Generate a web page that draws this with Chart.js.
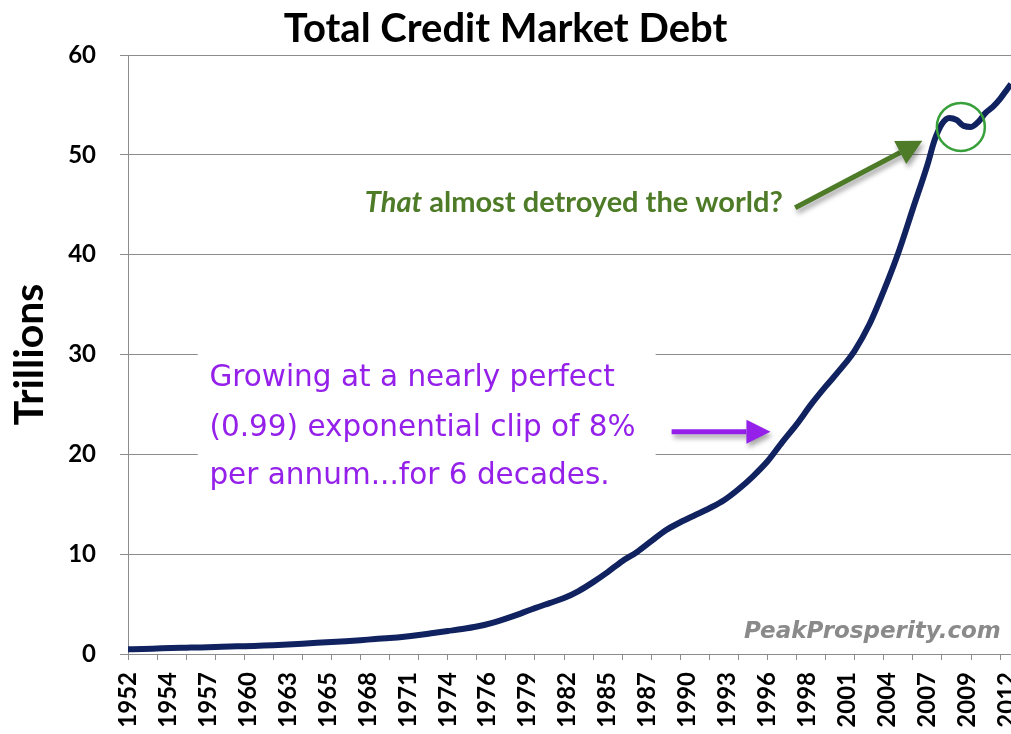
<!DOCTYPE html>
<html>
<head>
<meta charset="utf-8">
<title>Total Credit Market Debt</title>
<script src="https://cdn.jsdelivr.net/npm/chart.js@4.4.1/dist/chart.umd.min.js"></script>
<style>
    html, body { margin: 0; padding: 0; background: #fff; }
    #chart { display: block; }
</style>
</head>
<body>
<canvas id="chart" width="1011" height="734"></canvas>
<script>
// total credit market debt, trillions of $
const years = [
    1952, 1953, 1954, 1955, 1956, 1957, 1958, 1959, 1960, 1961,
    1962, 1963, 1964, 1965, 1966, 1967, 1968, 1969, 1970, 1971,
    1972, 1973, 1974, 1975, 1976, 1977, 1978, 1979, 1980, 1981,
    1982, 1983, 1984, 1985, 1986, 1987, 1988, 1989, 1990, 1991,
    1992, 1993, 1994, 1995, 1996, 1997, 1998, 1999, 2000, 2001,
    2002, 2003, 2004, 2005, 2006, 2007, 2007.5, 2008, 2008.5, 2009,
    2009.5, 2010, 2010.5, 2011, 2011.5, 2012, 2012.5, 2012.75
];
const debt = [
    0.47, 0.5, 0.55, 0.6, 0.63, 0.66, 0.7, 0.75, 0.78, 0.83,
    0.88, 0.95, 1.03, 1.12, 1.2, 1.28, 1.38, 1.5, 1.6, 1.73,
    1.9, 2.1, 2.3, 2.5, 2.75, 3.1, 3.55, 4.05, 4.6, 5.1,
    5.6, 6.3, 7.2, 8.2, 9.3, 10.2, 11.3, 12.4, 13.2, 13.9,
    14.6, 15.4, 16.5, 17.8, 19.3, 21.2, 23.0, 25.0, 26.8, 28.5,
    30.4, 33.0, 36.4, 40.2, 44.6, 49.0, 51.5, 53.1, 53.7, 53.5,
    52.9, 52.8, 53.3, 54.2, 54.8, 55.6, 56.6, 57.1
];

// excel category axis: a label every 11 quarters, a tick mark every 8 quarters
const tickLabels = [
    '1952', '1954', '1957', '1960', '1963', '1965', '1968', '1971',
    '1974', '1976', '1979', '1982', '1985', '1987', '1990', '1993',
    '1996', '1998', '2001', '2004', '2007', '2009', '2012'
];
const labelStep = 2.75;
const markStep = 2;

const titleText = 'Total Credit Market Debt';
const yTitle = 'Trillions';
const growthNote = ['Growing at a nearly perfect', '(0.99) exponential clip of 8%', 'per annum...for 6 decades.'];
const crashNote = ['That', ' almost detroyed the world?'];
const creditNote = 'PeakProsperity.com';

const gridColor = '#8c8c8c';
const lineColor = '#10225f';
const purple = '#9420ea';
const olive = '#4e7b27';

function arrow(ctx, x1, y1, x2, y2, color, width, headLen, headHalf) {
    const a = Math.atan2(y2 - y1, x2 - x1);
    const bx = x2 - headLen * Math.cos(a);
    const by = y2 - headLen * Math.sin(a);
    ctx.strokeStyle = color;
    ctx.fillStyle = color;
    ctx.lineWidth = width;
    ctx.beginPath();
    ctx.moveTo(x1, y1);
    ctx.lineTo(bx, by);
    ctx.stroke();
    ctx.beginPath();
    ctx.moveTo(x2, y2);
    ctx.lineTo(bx + headHalf * Math.sin(a), by - headHalf * Math.cos(a));
    ctx.lineTo(bx - headHalf * Math.sin(a), by + headHalf * Math.cos(a));
    ctx.closePath();
    ctx.fill();
}

// the notes, placed in data units
const notesPlugin = {
    id: 'notes',
    afterDraw(chart) {
        const ctx = chart.ctx;
        const px = v => chart.scales.x.getPixelForValue(v);
        const py = v => chart.scales.y.getPixelForValue(v);
        ctx.save();

        // white box under the purple text
        ctx.fillStyle = '#fff';
        ctx.fillRect(px(1956.8), py(30.95), px(1988.3) - px(1956.8), py(15.4) - py(30.95));

        ctx.fillStyle = purple;
        ctx.font = '29.5px "DejaVu Sans"';
        ctx.textAlign = 'left';
        ctx.textBaseline = 'middle';
        const lineVals = [27.65, 22.65, 17.75];
        growthNote.forEach((t, i) => ctx.fillText(t, px(1957.6), py(lineVals[i])));

        // green note
        ctx.fillStyle = olive;
        ctx.font = 'bold 29px Lato';
        const restW = ctx.measureText(crashNote[1]).width;
        ctx.textAlign = 'right';
        const xr = px(1997.05);
        ctx.fillText(crashNote[1], xr, py(45.2));
        ctx.font = 'italic bold 29px Lato';
        ctx.fillText(crashNote[0], xr - restW, py(45.2));

        // credit
        ctx.fillStyle = '#8a8a8a';
        ctx.font = 'italic bold 23px "DejaVu Sans"';
        ctx.fillText(creditNote, px(2012.05), py(2.2));

        // arrows with a soft shadow
        ctx.shadowColor = 'rgba(0,0,0,0.35)';
        ctx.shadowBlur = 5;
        ctx.shadowOffsetX = 2;
        ctx.shadowOffsetY = 4;
        arrow(ctx, px(1989.4), py(22.25), px(1996.2), py(22.25), purple, 5, 24, 12);
        arrow(ctx, px(1997.9), py(44.7), px(2006.65), py(51.4), olive, 5, 25, 13);
        ctx.shadowColor = 'rgba(0,0,0,0)';

        // circle round the 2008 bump
        ctx.strokeStyle = '#37a03a';
        ctx.lineWidth = 2.5;
        ctx.beginPath();
        ctx.arc(px(2009.3), py(52.8), 24, 0, Math.PI * 2);
        ctx.stroke();

        ctx.restore();
    }
};

const tickFont = { family: 'Lato', size: 24, weight: 'bold' };

new Chart(document.getElementById('chart'), {
    type: 'line',
    data: {
        datasets: [{
            data: years.map((y, i) => ({ x: y, y: debt[i] })),
            borderColor: lineColor,
            borderWidth: 6,
            pointRadius: 0,
            cubicInterpolationMode: 'monotone',
            fill: false
        }]
    },
    options: {
        responsive: false,
        animation: false,
        devicePixelRatio: 1,
        layout: { padding: 0 },
        plugins: {
            legend: { display: false },
            tooltip: { enabled: false },
            title: {
                display: true,
                text: titleText,
                color: '#000',
                font: { family: 'Lato', size: 40, weight: 'bold' },
                padding: { top: 5, bottom: 2 }
            }
        },
        scales: {
            x: {
                type: 'linear',
                min: 1952,
                max: 2012.75,
                afterBuildTicks(axis) {
                    const list = tickLabels.map((t, i) => ({ value: 1952 + i * labelStep, text: t, mark: false }));
                    for (let v = 1952; v <= 2012.75; v += markStep) {
                        const hit = list.find(k => Math.abs(k.value - v) < 1e-6);
                        if (hit) hit.mark = true;
                        else list.push({ value: v, text: '', mark: true });
                    }
                    list.sort((a, b) => a.value - b.value);
                    axis.ticks = list;
                },
                afterFit(axis) {
                    axis.height = 80;
                    axis.paddingLeft = 0;
                    axis.paddingRight = 0;
                },
                ticks: {
                    autoSkip: false,
                    minRotation: 90,
                    maxRotation: 90,
                    padding: 12,
                    color: '#000',
                    font: tickFont,
                    callback: (v, i, ticks) => ticks[i].text
                },
                grid: {
                    drawOnChartArea: false,
                    tickLength: 6,
                    color: c => (c.tick && c.tick.mark) ? gridColor : 'rgba(0,0,0,0)'
                },
                border: { color: gridColor }
            },
            y: {
                min: 0,
                max: 60,
                afterFit(axis) {
                    axis.width = 128;
                },
                ticks: { stepSize: 10, padding: 24, color: '#000', font: tickFont },
                grid: { color: gridColor, tickLength: 8 },
                border: { color: gridColor },
                title: {
                    display: true,
                    text: yTitle,
                    color: '#000',
                    font: { family: 'Lato', size: 41, weight: 'bold' },
                    padding: { top: 5, bottom: 0 }
                }
            }
        }
    },
    plugins: [notesPlugin]
});
</script>
</body>
</html>
